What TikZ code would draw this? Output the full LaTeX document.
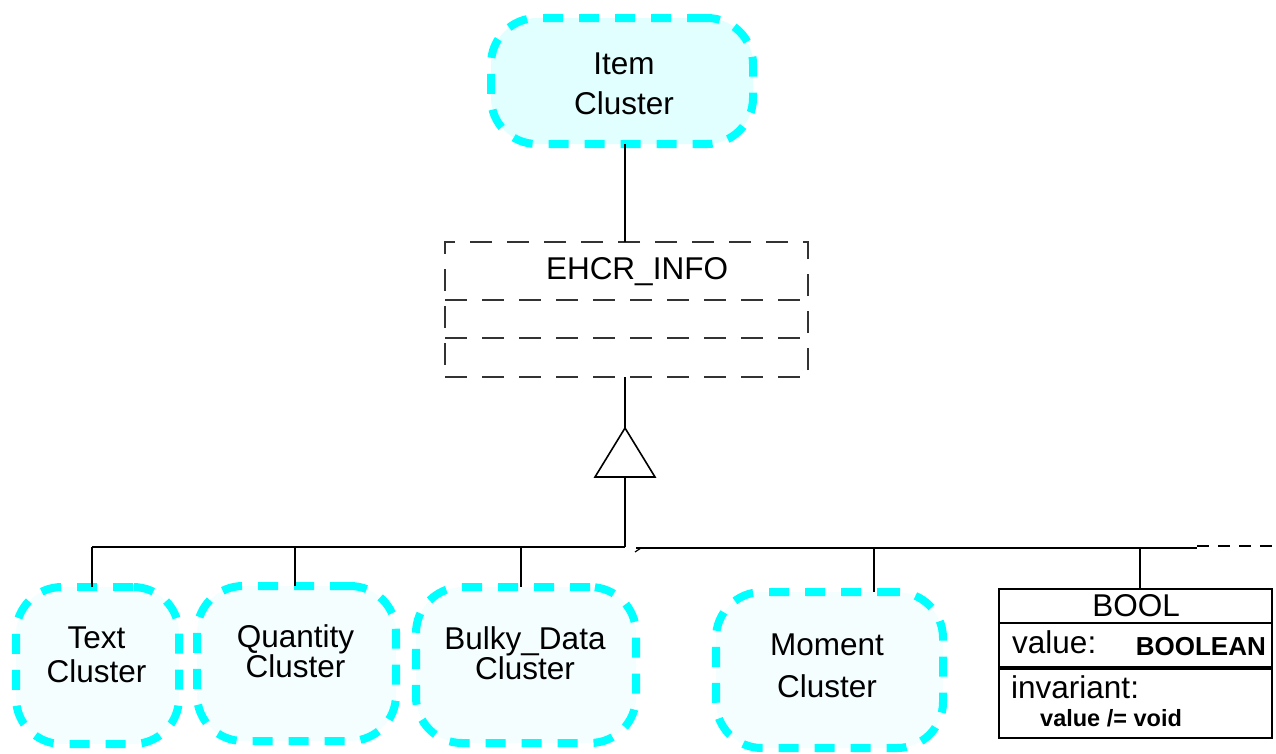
\documentclass[tikz,border=0pt]{standalone}
\usepackage{fontspec}
\setmainfont{Liberation Sans}
\begin{document}
\begin{tikzpicture}[x=1pt,y=-1pt,
  cluster/.style={draw=clusterline, line width=8pt, dash pattern=on 20pt off 16pt,
    rounded corners=46pt, inner sep=0pt, outer sep=0pt, fill=clusterfill},
  clustertext/.style={align=center, inner sep=0pt, font=\fontsize{31.5}{#1}\selectfont},
  classbox/.style={draw=ehcrline, line width=2pt, dash pattern=on 22pt off 15pt,
    inner sep=0pt, outer sep=0pt},
  wire/.style={draw=black, line width=1.6pt},
  boolframe/.style={draw=black, line width=2.2pt, inner sep=0pt, outer sep=0pt}]
\definecolor{clusterline}{HTML}{00FFFF}
\definecolor{clusterfill}{HTML}{F5FEFF}
\definecolor{itemfill}{HTML}{E2FFFF}
\definecolor{ehcrline}{HTML}{333333}
\useasboundingbox (0,0) rectangle (1276,753);

% top cluster
\node[cluster, fill=itemfill, minimum width=262pt, minimum height=126pt] (item) at (622,81) {};
\node[clustertext=40] (itemtxt) at (624,84) {Item\\Cluster};

% EHCR_INFO class box with its two compartments
\node[classbox, minimum width=363pt, minimum height=135pt] (ehcr) at (626.5,309.5) {};
\node[inner sep=0pt, font=\fontsize{31.5}{38}\selectfont] (ehcrtxt) at (637,272) {EHCR\_INFO};
\draw[ehcrline, line width=2pt, dash pattern=on 22pt off 15pt]
  ([yshift=9.5pt]ehcr.west) -- ([yshift=9.5pt]ehcr.east);
\draw[ehcrline, line width=2pt, dash pattern=on 22pt off 15pt]
  ([yshift=-28.5pt]ehcr.west) -- ([yshift=-28.5pt]ehcr.east);

\coordinate (up) at (625,0);
\draw[wire] (up |- item.south) -- (up |- ehcr.north);

% generalisation arrow
\coordinate (tip) at (625,428);
\coordinate (base) at (625,477);
\coordinate (hub) at (625,547);
\draw[wire] (up |- ehcr.south) -- (tip);
\draw[black, line width=1.6pt, line join=miter] (tip) -- ([xshift=-30pt]base) -- ([xshift=30pt]base) -- cycle;
\draw[wire] (base) -- (hub);

% bus
\coordinate (b1) at (92,547);
\coordinate (b2) at (295,547);
\coordinate (b3) at (521,547);
\coordinate (b4) at (874,548);
\coordinate (b5) at (1140,548);
\coordinate (r0) at (636,548);
\coordinate (r1) at (1197,548);
\coordinate (r2) at (1276,546);
\draw[black, line width=1.2pt] (b1) -- (hub);
\draw[black, line width=2.6pt] (r0) -- (r1);
\draw[black, line width=2pt, dash pattern=on 12pt off 9pt] (r1 |- r2) -- (r2);
\draw[black, line width=1.2pt] (635,552) -- (641,548);

% bottom clusters
\node[cluster, minimum width=163pt, minimum height=157pt] (text) at (97.5,665.5) {};
\node[clustertext=34] (texttxt) at (96.5,655) {Text\\Cluster};
\node[cluster, minimum width=199pt, minimum height=155pt] (quant) at (296.5,663.5) {};
\node[clustertext=30.5] (quanttxt) at (295.5,651) {Quantity\\Cluster};
\node[cluster, minimum width=220pt, minimum height=156pt] (bulky) at (526,665) {};
\node[clustertext=30.5] (bulkytxt) at (525,653) {Bulky\_Data\\Cluster};
\node[cluster, minimum width=227pt, minimum height=156pt] (moment) at (829.5,670) {};
\node[clustertext=42.5] (momenttxt) at (827,666) {Moment\\Cluster};

\draw[wire] (b1) -- (b1 |- text.north);
\draw[wire] (b2) -- (b2 |- quant.north);
\draw[wire] (b3) -- (b3 |- bulky.north);
\draw[wire] (b4) -- (b4 |- moment.north);

% BOOL class
\node[boolframe, minimum width=273pt, minimum height=149pt] (bool) at (1135.5,663.5) {};
\draw[black, line width=2.2pt] ([yshift=40.5pt]bool.west) -- ([yshift=40.5pt]bool.east);
\draw[black, line width=3.6pt] ([yshift=-4.5pt]bool.west) -- ([yshift=-4.5pt]bool.east);
\draw[wire] (b5) -- (b5 |- bool.north);
\node[inner sep=0pt, font=\fontsize{31.5}{38}\selectfont] (booltxt) at (1136,606) {BOOL};
\node[inner sep=0pt, anchor=base west, font=\fontsize{31.5}{38}\selectfont] (valtxt) at (1012,653) {value:};
\node[inner sep=0pt, anchor=base east, font=\fontsize{26}{30}\bfseries\selectfont] (typetxt) at (1266,655) {BOOLEAN};
\node[inner sep=0pt, anchor=base west, font=\fontsize{31.5}{38}\selectfont] (invtxt) at (1011,698) {invariant:};
\node[inner sep=0pt, anchor=base west, font=\fontsize{23.5}{28}\bfseries\selectfont] (condtxt) at (1040,726) {value /= void};
\end{tikzpicture}
\end{document}
